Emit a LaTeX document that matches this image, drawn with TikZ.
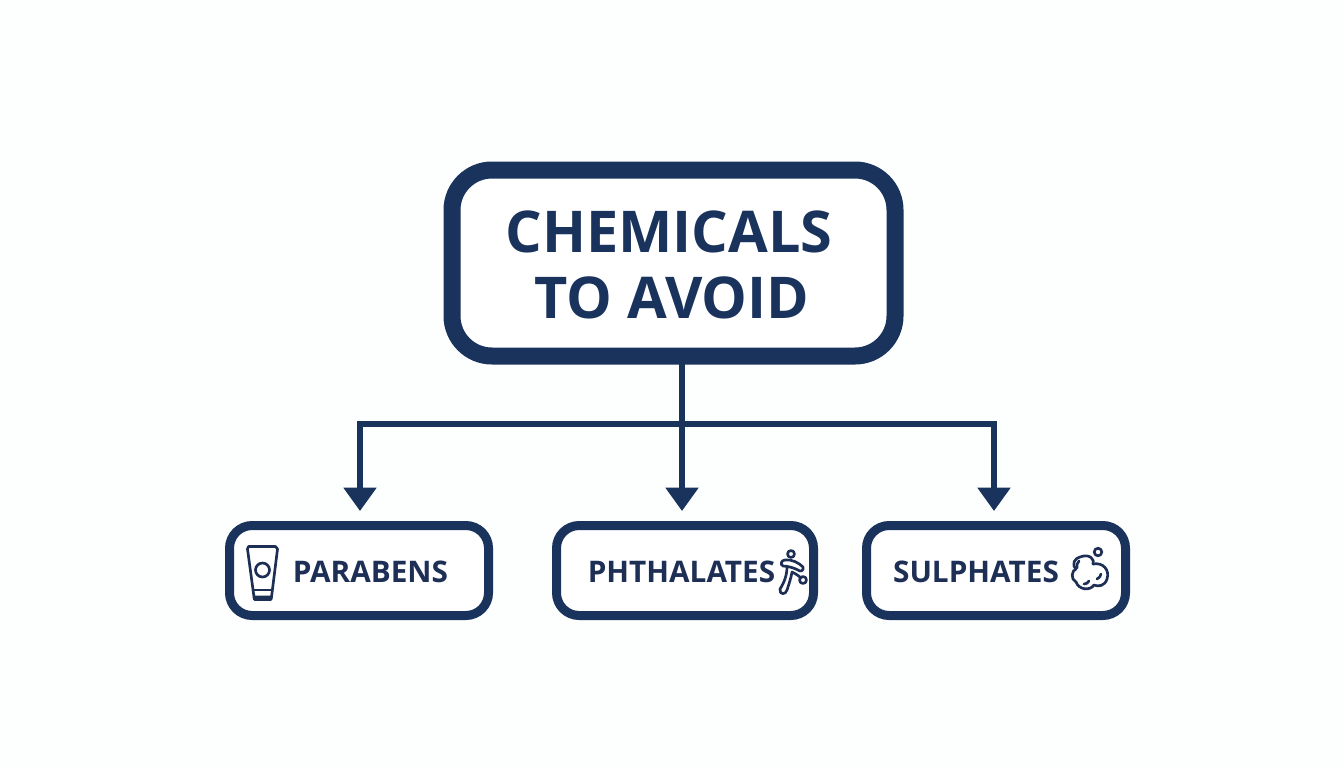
\documentclass[tikz,border=0pt]{standalone}
\usepackage{fontspec}
\setmainfont{Open Sans}
\usetikzlibrary{arrows.meta,calc}
\definecolor{navy}{HTML}{1A335C}
\definecolor{inkd}{HTML}{1E2F55}
\definecolor{paper}{HTML}{FDFEFE}
\tikzset{
  x=0.75pt,y=-0.75pt,
  mainbox/.style={draw=navy,line width=12.75pt,rounded corners=30pt,minimum width=332.25pt,minimum height=139.5pt,inner sep=0pt,fill=white},
  subbox/.style={draw=navy,line width=6.75pt,rounded corners=17pt,minimum width=194.25pt,minimum height=67.5pt,inner sep=0pt,fill=white},
  conn/.style={draw=navy,line width=3.9pt},
  arrowc/.style={conn,-{Triangle[length=17.5pt,width=24pt]}},
  maintxt/.style={text=navy,font=\bfseries\fontsize{43.2}{43.2}\selectfont,inner sep=0pt,anchor=base},
  subtxt/.style={text=inkd,font=\bfseries\fontsize{22.3}{22.3}\selectfont,inner sep=0pt,anchor=base},
  icon/.style={draw=inkd,line width=2pt,line join=round,line cap=round,fill=none}
}
\begin{document}
\begin{tikzpicture}
\useasboundingbox (0,0) rectangle (1344,768);
\fill[paper] (0,0) rectangle (1344,768);
\node[mainbox] (main) at (673.5,263) {};
\node[subbox] (a) at (359,570.5) {};
\node[subbox,minimum width=192.75pt] (b) at (685,570.5) {};
\node[subbox] (c) at (996,570.5) {};
\coordinate (top) at (682,361);
\coordinate (bus) at (682,424);
\coordinate (busl) at (360,424);
\coordinate (busr) at (994,424);
\coordinate (tipa) at (360,511);
\coordinate (tipb) at (682,511);
\coordinate (tipc) at (994,511);
\draw[conn] (top) -- (bus);
\draw[arrowc] (bus) -- (tipb);
\draw[arrowc,line join=miter] (bus) -- (busl) -- (tipa);
\draw[arrowc,line join=miter] (bus) -- (busr) -- (tipc);
\node[maintxt] (t1) at (669,252) {CHEMICALS};
\node[maintxt] (t2) at (672,318) {TO AVOID};
\node[subtxt] (ta) at (370.5,582) {PARABENS};
\node[subtxt] (tb) at (681.5,582) {PHTHALATES};
\node[subtxt] (tc) at (976,582) {SULPHATES};
% tube icon
\draw[icon] (248.5,546.5) -- (275.5,546.5) -- (277.5,549) -- (271.5,597) -- (254,597) -- (247.5,549) -- cycle;
\draw[icon] (254,590) -- (271.5,590);
\draw[icon] (254,597) -- (254.5,599.5) -- (271,599.5) -- (271.5,597);
\draw[icon] (262.5,570) circle (7);
% figure icon
\draw[icon] (791,554) circle (3.5);
\draw[icon] (785,560) .. controls (792,559) and (799,563) .. (803,567) .. controls (804,571) and (800,572) .. (798,570) .. controls (794,568) and (788,566) .. (783,566) .. controls (780,565) and (781,560) .. (785,560);
\draw[icon] (787,567) .. controls (787,575) and (784,583) .. (780,589) .. controls (779,595) and (786,595) .. (787,590) .. controls (789,584) and (791,578) .. (792,572) .. controls (796,574) and (799,576) .. (801,578);
\draw[icon] (803,580) circle (3.5);
% bubbles icon
\draw[icon] (1098,552) circle (3.8);
\draw[icon] (1080,557) .. controls (1090,553) and (1095,560) .. (1093,564) .. controls (1103,562) and (1110,570) .. (1107,579) .. controls (1105,586) and (1098,587) .. (1094,585) .. controls (1090,591) and (1079,590) .. (1076,582) .. controls (1070,579) and (1072,570) .. (1076,569) .. controls (1071,564) and (1075,558) .. (1080,557) -- cycle;
\draw[icon] (1079,561) .. controls (1077,563) and (1076,566) .. (1077,568);
\draw[icon] (1097,579) .. controls (1099,578) and (1101,576) .. (1101,574);
\draw[icon] (1084,584) .. controls (1086,584) and (1088,583) .. (1089,581);
\end{tikzpicture}
\end{document}
